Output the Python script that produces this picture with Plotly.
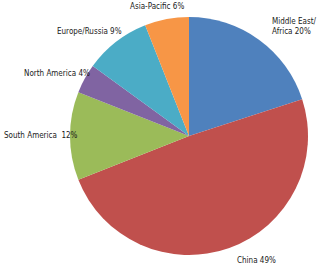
import plotly.graph_objects as go

regions = ["Middle East/Africa", "China", "South America", "North America", "Europe/Russia", "Asia-Pacific"]
shares = [20, 49, 12, 4, 9, 6]
label_texts = ["Middle East/<br>Africa 20%", "China 49%", "South America  12%", "North America 4%", "Europe/Russia 9%", "Asia-Pacific 6%"]
colors = ["#4F81BD", "#C0504D", "#9BBB59", "#8064A2", "#4BACC6", "#F79646"]

W, H = 323, 269

fig = go.Figure(go.Pie(
    labels=regions, values=shares, sort=False, direction="clockwise", rotation=0,
    marker=dict(colors=colors, line=dict(width=0)), textinfo="none", hoverinfo="label+percent",
    domain=dict(x=[70 / W, 308 / W], y=[1 - 255 / H, 1 - 17 / H]), showlegend=False,
))

# label positions in pixels (left x, center y)
pos = [(270, 27), (235, 260), (2, 135), (22, 73), (55, 32), (128, 7)]
font = dict(family="DejaVu Sans Condensed, Liberation Sans Narrow, sans-serif", size=8, color="#1a1a1a")
for t, (px, py) in zip(label_texts, pos):
    fig.add_annotation(x=px / W, y=1 - py / H, xref="paper", yref="paper", text=t,
                       showarrow=False, xanchor="left", yanchor="middle", align="left", font=font)

fig.update_layout(width=W, height=H, margin=dict(l=0, r=0, t=0, b=0),
                  paper_bgcolor="white", plot_bgcolor="white")
fig.write_html("out.html")
